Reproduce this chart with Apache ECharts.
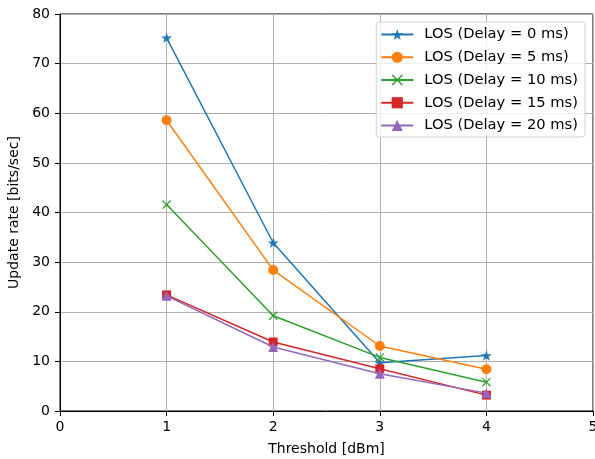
<!DOCTYPE html>
<html>
<head>
<meta charset="utf-8">
<script src="https://cdn.jsdelivr.net/npm/echarts@6/dist/echarts.min.js"></script>
<style>html,body{margin:0;padding:0;background:#fff;}#c{width:595px;height:459px;}</style>
</head>
<body>
<div id="c"></div>
<script>
const thresholds = [1, 2, 3, 4];
const seriesNames = ['LOS (Delay = 0 ms)', 'LOS (Delay = 5 ms)', 'LOS (Delay = 10 ms)', 'LOS (Delay = 15 ms)', 'LOS (Delay = 20 ms)'];
const delay0 = [75.2, 33.9, 9.7, 11.2];
const delay5 = [58.6, 28.4, 13.1, 8.4];
const delay10 = [41.6, 19.2, 10.8, 5.8];
const delay15 = [23.4, 13.9, 8.5, 3.2];
const delay20 = [23.2, 12.9, 7.5, 3.6];
const xTicks = [0, 1, 2, 3, 4, 5];
const yTicks = [0, 10, 20, 30, 40, 50, 60, 70, 80];

const colors = ['#1f77b4', '#ff7f0e', '#2ca02c', '#d62728', '#9467bd'];
const starPath = 'path://M50 0 L61.2 34.5 L97.6 34.5 L68.2 55.9 L79.4 90.5 L50 69.1 L20.6 90.5 L31.8 55.9 L2.4 34.5 L38.8 34.5 Z';
const xPath = 'path://M0 10 L10 0 L50 40 L90 0 L100 10 L60 50 L100 90 L90 100 L50 60 L10 100 L0 90 L40 50 Z';
const symbols = [starPath, 'circle', xPath, 'rect', 'triangle'];
const sizes = [11, 10, 9, 9, 10];
const allData = [delay0, delay5, delay10, delay15, delay20];
const font = 'DejaVu Sans';

const chart = echarts.init(document.getElementById('c'), null, {renderer: 'canvas'});
chart.setOption({
  animation: false,
  backgroundColor: '#fff',
  grid: {left: 60, right: 2, top: 14, bottom: 48, outerBoundsMode: 'none', containLabel: false,
         show: true, borderColor: '#000', borderWidth: 1, backgroundColor: 'transparent'},
  xAxis: {
    type: 'value', min: xTicks[0], max: xTicks[xTicks.length - 1], interval: 1,
    name: 'Threshold [dBm]', nameLocation: 'middle', nameGap: 31,
    nameTextStyle: {fontFamily: font, fontSize: 14, color: '#000'},
    axisLine: {show: true, lineStyle: {color: '#000', width: 1}},
    axisTick: {show: true, length: 5, lineStyle: {color: '#000'}},
    axisLabel: {fontFamily: font, fontSize: 14, color: '#000', margin: 9},
    splitLine: {show: true, lineStyle: {color: '#b0b0b0', width: 1}}
  },
  yAxis: {
    type: 'value', min: yTicks[0], max: yTicks[yTicks.length - 1], interval: 10,
    name: 'Update rate [bits/sec]', nameLocation: 'middle', nameGap: 36,
    nameTextStyle: {fontFamily: font, fontSize: 14, color: '#000'},
    axisLine: {show: true, lineStyle: {color: '#000', width: 1}},
    axisTick: {show: true, length: 5, lineStyle: {color: '#000'}},
    axisLabel: {fontFamily: font, fontSize: 14, color: '#000', margin: 10},
    splitLine: {show: true, lineStyle: {color: '#b0b0b0', width: 1}}
  },
  legend: {
    orient: 'vertical', right: 10, top: 22,
    padding: [5, 7, 4, 4], itemGap: 7.75, itemWidth: 32, itemHeight: 14,
    borderColor: '#d0d0d0', borderWidth: 1, borderRadius: 3,
    backgroundColor: 'rgba(255,255,255,0.8)',
    textStyle: {fontFamily: font, fontSize: 14.7, color: '#000', padding: [0, 0, 0, 6]},
    data: seriesNames
  },
  series: allData.map((vals, i) => ({
    name: seriesNames[i], type: 'line',
    data: thresholds.map((t, j) => [t, vals[j]]),
    symbol: symbols[i], symbolSize: sizes[i], symbolKeepAspect: true,
    color: colors[i],
    lineStyle: {width: 1.5, color: colors[i]},
    itemStyle: {color: colors[i], borderWidth: 0},
    z: 10 + i
  }))
});
</script>
</body>
</html>
